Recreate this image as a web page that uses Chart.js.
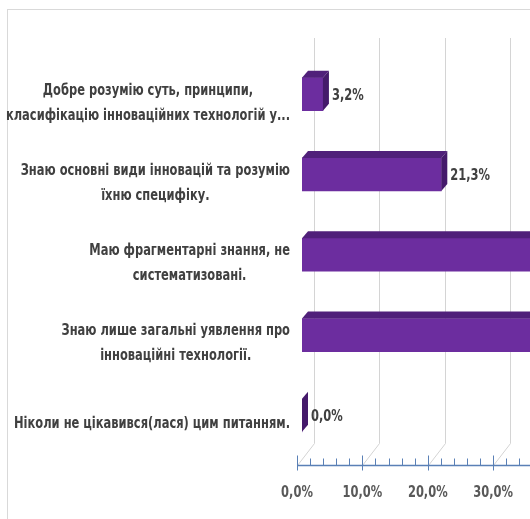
<!DOCTYPE html>
<html lang="uk">
<head>
<meta charset="UTF-8">
<title>Рівень знань про інноваційні технології</title>
<script src="https://cdn.jsdelivr.net/npm/chart.js@4.4.1/dist/chart.umd.min.js"></script>
<style>
    html, body {
        margin: 0;
        padding: 0;
        background: #fff;
        overflow: hidden;
    }
    #wrap {
        position: absolute;
        left: 0;
        top: 0;
    }
</style>
</head>
<body>
<div id="wrap"><canvas id="myChart" width="720" height="519"></canvas></div>

<script>
// answers (multi-line labels) and their shares, %
const categories = [
    ['Добре розумію суть, принципи,', 'класифікацію інноваційних технологій у...'],
    ['Знаю основні види інновацій та розумію', 'їхню специфіку.'],
    ['Маю фрагментарні знання, не', 'систематизовані.'],
    ['Знаю лише загальні уявлення про', 'інноваційні технології.'],
    ['Ніколи не цікавився(лася) цим питанням.']
];
const shares = [3.2, 21.3, 39.4, 36.1, 0.0];
const tickValues = [0, 10, 20, 30, 40, 50];

const FONT = '"Liberation Sans Narrow", "DejaVu Sans Condensed", Roboto, sans-serif';
const TEXT_FONT = 'bold 15px ' + FONT;
const pct = v => Number(v).toFixed(1).replace('.', ',') + '%';

// box depth of the bars and of the back wall
const DX = 6, DY = 7;
const WALL_DX = 17, WALL_DY = 22, SHIFT = 5;

// squeeze factor so the bold labels come out narrow (Calibri-like)
let squeeze = 1;
function fitSqueeze(ctx) {
    ctx.save();
    ctx.font = TEXT_FONT;
    const w = ctx.measureText(categories[4][0]).width;
    ctx.restore();
    squeeze = Math.min(1, 276 / w);
}

function narrowText(ctx, text, x, y, align) {
    ctx.save();
    ctx.translate(x, y);
    ctx.scale(squeeze, 1);
    ctx.textAlign = align;
    ctx.textBaseline = 'middle';
    ctx.fillText(text, 0, 0);
    ctx.restore();
}

// light frame around the whole chart
const framePlugin = {
    id: 'frame',
    beforeDraw(chart) {
        const ctx = chart.ctx;
        fitSqueeze(ctx);
        ctx.save();
        ctx.strokeStyle = '#d9d9d9';
        ctx.lineWidth = 1;
        ctx.strokeRect(7.5, 9.5, chart.width, chart.height);
        ctx.restore();
    }
};

// back wall gridlines with the floor diagonals
const wallPlugin = {
    id: 'wall',
    beforeDatasetsDraw(chart) {
        const ctx = chart.ctx, x = chart.scales.x, area = chart.chartArea;
        const floorY = area.bottom + 10;
        ctx.save();
        ctx.strokeStyle = '#d4d4d4';
        ctx.lineWidth = 1;
        tickValues.forEach(v => {
            const fx = Math.round(x.getPixelForValue(v) - SHIFT) + 0.5;
            ctx.beginPath();
            ctx.moveTo(fx, floorY);
            ctx.lineTo(fx + WALL_DX, floorY - WALL_DY);
            ctx.lineTo(fx + WALL_DX, area.top - 16);
            ctx.stroke();
        });
        ctx.restore();
    }
};

// top and side faces of each bar, then the value labels
const boxPlugin = {
    id: 'box',
    afterDatasetsDraw(chart) {
        const ctx = chart.ctx;
        const meta = chart.getDatasetMeta(0);
        ctx.save();
        meta.data.forEach((bar, i) => {
            const top = bar.y - bar.height / 2, bottom = bar.y + bar.height / 2;
            const x0 = bar.base, x1 = bar.x;
            ctx.fillStyle = '#50207a';
            ctx.beginPath();
            ctx.moveTo(x0, top);
            ctx.lineTo(x0 + DX, top - DY);
            ctx.lineTo(x1 + DX, top - DY);
            ctx.lineTo(x1, top);
            ctx.closePath();
            ctx.fill();
            ctx.fillStyle = '#451a6b';
            ctx.beginPath();
            ctx.moveTo(x1, top);
            ctx.lineTo(x1 + DX, top - DY);
            ctx.lineTo(x1 + DX, bottom - DY);
            ctx.lineTo(x1, bottom);
            ctx.closePath();
            ctx.fill();

            ctx.fillStyle = '#404040';
            ctx.font = TEXT_FONT;
            narrowText(ctx, pct(shares[i]), x1 + 9, bar.y + 2, 'left');
        });
        ctx.restore();
    }
};

// category labels (block right-aligned, lines centred) and the value axis
const labelPlugin = {
    id: 'catLabels',
    afterDraw(chart) {
        const ctx = chart.ctx, y = chart.scales.y, x = chart.scales.x, area = chart.chartArea;
        ctx.save();
        ctx.font = TEXT_FONT;
        ctx.fillStyle = '#404040';
        categories.forEach((lines, i) => {
            const w = squeeze * Math.max(...lines.map(t => ctx.measureText(t).width));
            const cx = area.left - 12 - w / 2;
            const cy = y.getPixelForValue(i) + 9;
            lines.forEach((t, k) => {
                narrowText(ctx, t, cx, cy + (k - (lines.length - 1) / 2) * 25, 'center');
            });
        });

        const floorY = area.bottom + 10;
        ctx.strokeStyle = '#5a80b6';
        ctx.lineWidth = 1.5;
        ctx.beginPath();
        ctx.moveTo(x.getPixelForValue(0) - SHIFT, floorY);
        ctx.lineTo(x.getPixelForValue(50) - SHIFT, floorY);
        ctx.stroke();
        ctx.lineWidth = 1;
        for (let v = 0; v <= 50; v += 2) {
            const px = Math.round(x.getPixelForValue(v) - SHIFT) + 0.5;
            const major = v % 10 === 0;
            ctx.beginPath();
            ctx.moveTo(px, floorY - (major ? 10 : 7));
            ctx.lineTo(px, floorY + (major ? 5 : 0));
            ctx.stroke();
        }

        ctx.fillStyle = '#595959';
        tickValues.forEach(v => {
            narrowText(ctx, pct(v), x.getPixelForValue(v) - SHIFT, floorY + 28, 'center');
        });
        ctx.restore();
    }
};

const ctx = document.getElementById('myChart').getContext('2d');
const myChart = new Chart(ctx, {
    type: 'bar',
    data: {
        labels: categories,
        datasets: [{
            data: shares,
            backgroundColor: '#6c2d9f',
            borderWidth: 0,
            barThickness: 33
        }]
    },
    options: {
        indexAxis: 'y',
        responsive: false,
        animation: false,
        layout: {
            padding: { left: 302, top: 54, right: 91, bottom: 0 }
        },
        plugins: {
            legend: { display: false },
            tooltip: { enabled: false }
        },
        scales: {
            y: { display: false },
            x: {
                min: 0,
                max: 50,
                afterFit: s => { s.height = 63.5; },
                grid: { display: false, drawTicks: false },
                border: { display: false },
                ticks: { display: false }
            }
        }
    },
    plugins: [framePlugin, wallPlugin, boxPlugin, labelPlugin]
});
</script>
</body>
</html>
